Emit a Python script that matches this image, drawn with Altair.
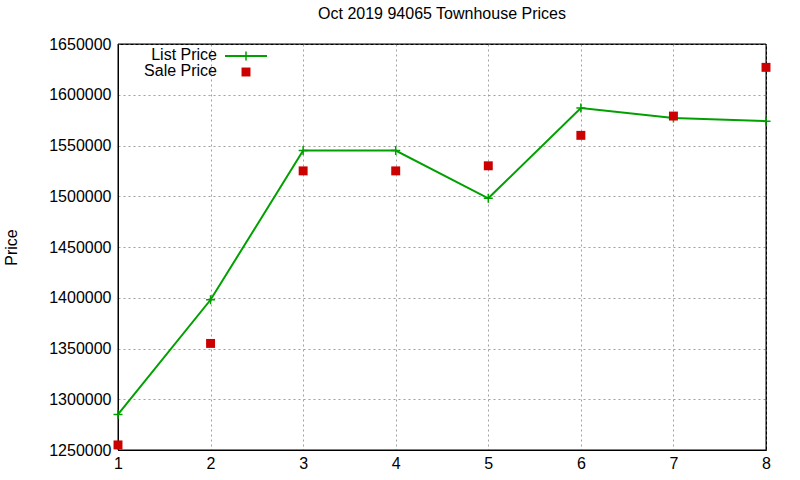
import altair as alt
import pandas as pd

months = [1, 2, 3, 4, 5, 6, 7, 8]
list_price = [1285000, 1398000, 1545000, 1545000, 1498000, 1587000, 1577000, 1574000]
sale_price = [1255000, 1355000, 1525000, 1525000, 1530000, 1560000, 1579000, 1627000]
y_ticks = [1250000, 1300000, 1350000, 1400000, 1450000, 1500000, 1550000, 1600000, 1650000]
title_text = "Oct 2019 94065 Townhouse Prices"

GREEN = "#00a000"
RED = "#cc0000"
FONT = "Liberation Sans"
PLUS = "M-1,0L1,0M0,-1L0,1"

df = pd.DataFrame({"x": months, "list": list_price, "sale": sale_price})

xs = alt.X("x:Q", scale=alt.Scale(domain=[1, 8], nice=False),
           axis=alt.Axis(values=months, format="d", title=None, grid=True,
                         labelPadding=5, tickSize=0, labelFlush=False))
ys = alt.Y("list:Q", scale=alt.Scale(domain=[1250000, 1650000], nice=False, zero=False),
           axis=alt.Axis(values=y_ticks, format="d", title="Price", grid=True,
                         labelPadding=7, tickSize=0, titlePadding=29, labelFlush=False))

one = alt.Data(values=[{}])
frame = alt.Chart(one).mark_rect(fill=None, stroke="black", strokeWidth=1).encode(
    x=alt.value(0), x2=alt.value(648), y=alt.value(0), y2=alt.value(406))

base = alt.Chart(df)
line = base.mark_line(color=GREEN, strokeWidth=2).encode(x=xs, y=ys)
plus = base.mark_point(shape=PLUS, size=81, color=GREEN, filled=False, strokeWidth=1.5, opacity=1).encode(x="x:Q", y="list:Q")
sale = base.mark_point(shape="square", size=80, color=RED, filled=True, opacity=1).encode(
    x="x:Q", y=alt.Y("sale:Q"))

leg_t1 = alt.Chart(one).mark_text(text="List Price", align="right", baseline="middle",
                                  font=FONT, fontSize=16, color="black").encode(
    x=alt.value(99), y=alt.value(11))
leg_t2 = alt.Chart(one).mark_text(text="Sale Price", align="right", baseline="middle",
                                  font=FONT, fontSize=16, color="black").encode(
    x=alt.value(99), y=alt.value(27))
leg_line = alt.Chart(one).mark_rule(color=GREEN, strokeWidth=2).encode(
    x=alt.value(107), x2=alt.value(149), y=alt.value(12))
leg_plus = alt.Chart(one).mark_point(shape=PLUS, size=81, color=GREEN, filled=False,
                                     strokeWidth=1.5, opacity=1).encode(
    x=alt.value(128), y=alt.value(12))
leg_sq = alt.Chart(one).mark_point(shape="square", size=80, color=RED, filled=True,
                                   opacity=1).encode(x=alt.value(128), y=alt.value(28))

chart = alt.layer(line, frame, plus, sale, leg_line, leg_plus, leg_t1, leg_t2, leg_sq).properties(
    width=648, height=406,
    title=alt.TitleParams(title_text, font=FONT, fontSize=16, fontWeight="normal",
                          color="black", anchor="middle", offset=14),
    autosize=alt.AutoSizeParams(type="none"),
    padding={"left": 118, "top": 44, "right": 34, "bottom": 30},
).configure(background="white").configure_view(
    stroke="black", strokeWidth=1
).configure_axis(
    labelFont=FONT, labelFontSize=16, labelColor="black",
    titleFont=FONT, titleFontSize=16, titleColor="black", titleFontWeight="normal",
    domainColor="black", gridColor="#a0a0a0", gridDash=[2, 3], gridWidth=1,
)

chart.save("out.html", embed_options={"renderer": "svg", "actions": False})
